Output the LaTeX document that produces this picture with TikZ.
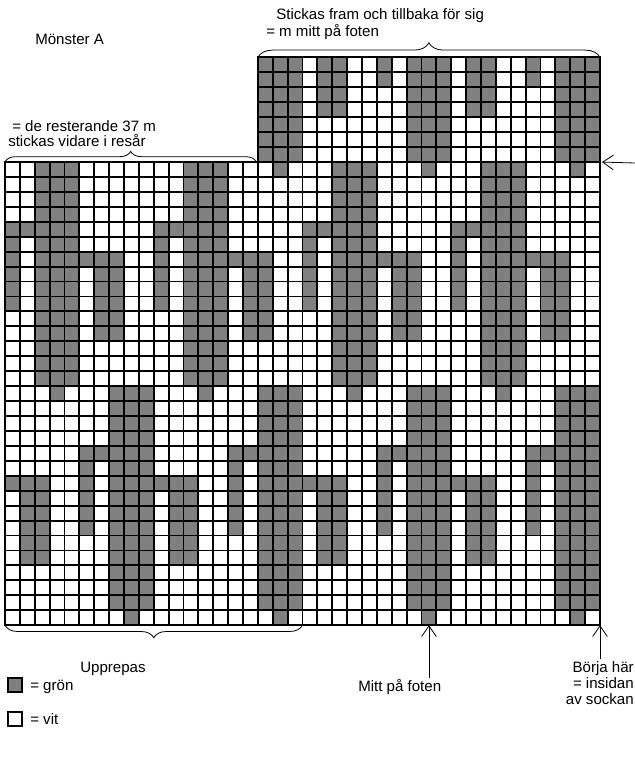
\documentclass[tikz,border=0pt]{standalone}
\usepackage{fontspec}
\setmainfont{Liberation Sans}
\usetikzlibrary{arrows.meta,decorations.pathreplacing}
\definecolor{gron}{HTML}{808080}
\tikzset{
  etikett/.style={font=\fontsize{11.3}{12}\selectfont, inner sep=0pt, text height=1.5ex, text depth=.25ex},
  gitter/.style={line width=1.4pt, line cap=rect},
  pil/.style={line width=0.6pt, -{Straight Barb[length=8pt,width=11pt]}},
  klammer/.style={line width=0.6pt, decorate},
  ruta/.style={draw=black, line width=1.2pt, minimum size=10.5pt, inner sep=0pt},
}
\begin{document}
\begin{tikzpicture}[x=0.75pt, y=-0.75pt]
\useasboundingbox (0,0) rectangle (635,758);

% Diagram: en ruta per maska (x) och varv (y)
\begin{scope}[shift={(3.75pt,-121.5pt)}, x=11.156pt, y=-11.205pt]
  % grona rutor, monstret upprepas var 10:e maska
  \foreach \r/\fran/\monster in {
      -7/17/{1,2,5,7,8,9}, -6/17/{1,2,5,7,8,9}, -5/17/{1,2,7,8,9}, -4/17/{1,2,7,8,9},
      -3/17/{7,8,9}, -2/17/{7,8,9}, -1/17/{7,8,9},
      0/0/{2,3,4}, 0/17/{8}, 1/0/{2,3,4}, 2/0/{2,3,4}, 3/0/{2,3,4},
      4/0/{0,1,2,3,4}, 5/0/{0,2,3,4}, 6/0/{0,2,3,4,5,6,7},
      7/0/{0,2,3,4,6,7}, 8/0/{0,2,3,4,6,7}, 9/0/{0,2,3,4,6,7},
      10/0/{2,3,4,6,7}, 11/0/{2,3,4,6,7},
      12/0/{2,3,4}, 13/0/{2,3,4}, 14/0/{2,3,4},
      15/0/{3,7,8,9}, 16/0/{7,8,9}, 17/0/{7,8,9}, 18/0/{7,8,9},
      19/0/{5,6,7,8,9}, 20/0/{5,7,8,9}, 21/0/{0,1,2,5,7,8,9},
      22/0/{1,2,5,7,8,9}, 23/0/{1,2,5,7,8,9}, 24/0/{1,2,5,7,8,9},
      25/0/{1,2,7,8,9}, 26/0/{1,2,7,8,9},
      27/0/{7,8,9}, 28/0/{7,8,9}, 29/0/{7,8,9}, 30/0/{8}} {
    \foreach \k in {0,10,20,30} {
      \foreach \p in \monster {
        \pgfmathtruncatemacro\c{\k+\p}
        \ifnum\c<\fran\else
          \fill[gron] (\c,\r) rectangle ++(1,1);
        \fi
      }
    }
  }

  % linjer
  \foreach \c in {0,...,40} \draw[gitter] (\c,0) -- (\c,31);
  \foreach \r in {0,...,31} \draw[gitter] (0,\r) -- (40,\r);
  \foreach \c in {17,...,40} \draw[gitter] (\c,-7) -- (\c,0);
  \foreach \r in {-7,...,-1} \draw[gitter] (17,\r) -- (40,\r);

  \coordinate (ovreV) at (17,-7);
  \coordinate (ovreH) at (40,-7);
  \coordinate (nedreV) at (0,0);
  \coordinate (nedreM) at (16.9,0);
  \coordinate (skarv) at (40,0);
  \coordinate (bottenV) at (0,31);
  \coordinate (bottenM) at (20,31);
  \coordinate (mitt) at (28.5,31);
  \coordinate (start) at (40,31);
\end{scope}

% Rubrik
\node[etikett, anchor=west] (rubrik) at (35,40) {Mönster A};

% Klamrar och texter
\draw[klammer, decoration={brace, amplitude=11pt}] (ovreV) -- (ovreH);
\node[etikett, anchor=west] (ovretext) at (276,15) {Stickas fram och tillbaka för sig};
\node[etikett, anchor=west] (ovretext2) at (266,32) {= m mitt på foten};

\draw[klammer, decoration={brace, amplitude=8pt}] (nedreV) -- (nedreM);
\node[etikett, anchor=west] (restext) at (12,127) {= de resterande 37 m};
\node[etikett, anchor=west] (restext2) at (8,142) {stickas vidare i resår};

\draw[klammer, decoration={brace, amplitude=9.5pt, mirror}] (bottenV) -- (bottenM);
\node[etikett, anchor=west] (upprepas) at (80,668) {Upprepas};

% Pilar
\coordinate (hogerpil) at (635,163);
\draw[pil, shorten >=1.5pt] (hogerpil) -- (skarv);

\node[etikett, anchor=west] (mitttext) at (358,687) {Mitt på foten};
\draw[pil, shorten <=2pt] (mitttext.north -| mitt) -- (mitt);

\node[etikett, anchor=east] (borja) at (634,668) {Börja här};
\node[etikett, anchor=east] (insidan) at (634,684) {= insidan};
\node[etikett, anchor=east] (sockan) at (634,700) {av sockan};
\draw[pil, shorten <=2pt] (borja.north -| start) -- (start);

% Teckenförklaring
\node[ruta, fill=gron] (gronruta) at (15,685) {};
\node[etikett, anchor=west] (grontext) at (30,686) {= grön};
\node[ruta, fill=white] (vitruta) at (15,719) {};
\node[etikett, anchor=west] (vittext) at (30,720) {= vit};
\end{tikzpicture}
\end{document}
